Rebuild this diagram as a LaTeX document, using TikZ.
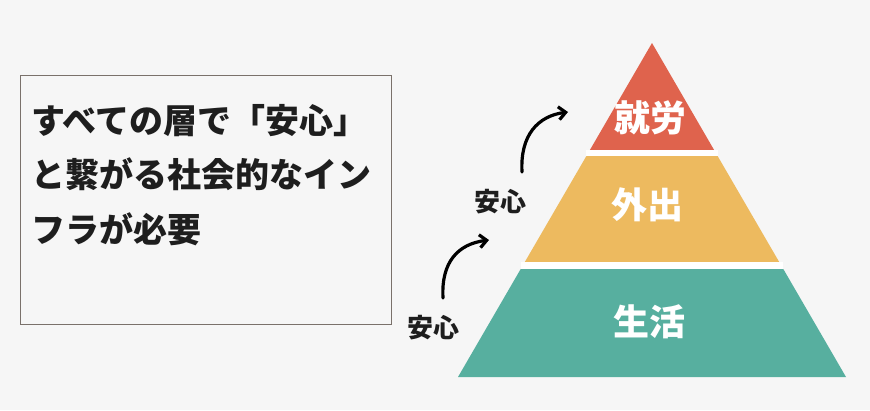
\documentclass[tikz,border=0pt]{standalone}
\usepackage{fontspec}
\newfontfamily\jp{Noto Sans CJK JP}
\usetikzlibrary{arrows.meta}
\definecolor{bgc}{HTML}{F6F6F6}
\definecolor{boxc}{HTML}{7A716B}
\definecolor{redc}{HTML}{DF634D}
\definecolor{yelc}{HTML}{EDBA5F}
\definecolor{grnc}{HTML}{57AF9F}
\definecolor{txtc}{HTML}{1E1E1E}
\tikzset{
  layerlabel/.style={text=white, font=\jp\bfseries\fontsize{36}{36}\selectfont, inner sep=0pt},
  anshin/.style={text=txtc, font=\jp\bfseries\fontsize{26}{26}\selectfont, inner sep=0pt},
  curvearrow/.style={line width=3.2pt, line cap=round, -{Straight Barb[length=7pt,width=13pt,line width=3.2pt]}},
}
\begin{document}
\begin{tikzpicture}[x=1pt,y=-1pt]
\fill[bgc] (0,0) rectangle (870,410);
\useasboundingbox (0,0) rectangle (870,410);
% text box
\node[draw=boxc, line width=1.2pt, minimum width=371pt, minimum height=249pt, anchor=north west, inner sep=0pt] (box) at (19.5,74.5) {};
\node[anchor=base west, align=left, inner sep=0pt, text=txtc, font=\jp\bfseries\fontsize{34}{54.5}\selectfont] (title) at (31,242)
  {すべての層で「安心」\\と繋がる社会的なイン\\フラが必要};
% pyramid layers
\fill[redc] (652,43) -- (714.1,150) -- (589.9,150) -- cycle;
\fill[yelc] (586.4,156) -- (717.6,156) -- (779.2,262) -- (524.8,262) -- cycle;
\fill[grnc] (520.7,269) -- (783.3,269) -- (846,377) -- (458,377) -- cycle;
\fill[white] (586.4,150) rectangle (717.6,156);
\fill[white] (520.7,262) rectangle (783.3,269);
\node[layerlabel] (work) at (650,118) {就労};
\node[layerlabel] (out) at (647,205) {外出};
\node[layerlabel] (life) at (649,322) {生活};
% anshin labels and arrows
\node[anshin] (a1) at (500,202) {安心};
\node[anshin] (a2) at (433,328) {安心};
\coordinate (u1) at (522,172);
\coordinate (u2) at (568,112);
\coordinate (l1) at (443,298);
\coordinate (l2) at (489,240);
\draw[curvearrow] (u1) .. controls (520,135) and (538,116) .. (u2);
\draw[curvearrow] (l1) .. controls (441,262) and (458,244) .. (l2);
\end{tikzpicture}
\end{document}
